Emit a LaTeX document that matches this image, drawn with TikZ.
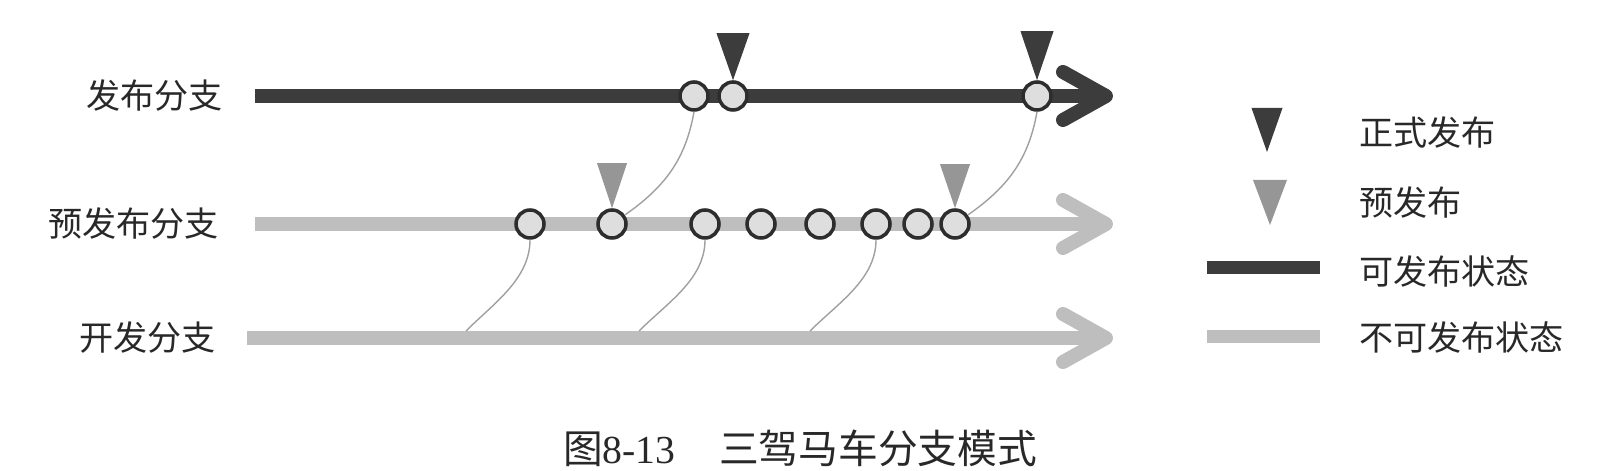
\documentclass[tikz,border=0pt]{standalone}
\usepackage{fontspec}
\setmainfont{Liberation Serif}
\newfontfamily\cjk{Noto Sans CJK SC}
\usepackage{tikz}
\usetikzlibrary{arrows.meta}
\definecolor{reldark}{RGB}{60,60,60}
\definecolor{prelight}{RGB}{190,190,190}
\definecolor{pretri}{RGB}{150,150,150}
\definecolor{commitfill}{RGB}{222,222,222}
\definecolor{commitedge}{RGB}{45,45,45}
\definecolor{linkgray}{RGB}{160,160,160}
\definecolor{textgray}{RGB}{40,40,40}
\tikzset{
  branch/.style={line width=0.14cm, -{Straight Barb[length=0.43cm,width=0.48cm,round]}},
  commit/.style={circle, draw=commitedge, fill=commitfill, line width=1pt, minimum size=0.28cm, inner sep=0pt},
  link/.style={draw=linkgray, line width=0.4pt},
  lbl/.style={font=\cjk\fontsize{9.7}{12}\selectfont, text=textgray},
}

\begin{document}
\begin{tikzpicture}
    \useasboundingbox (0,0) rectangle (16.23,4.71);
    % Branch labels
    \node[lbl, anchor=east] (lrel) at (2.35,3.75) {发布分支};
    \node[lbl, anchor=east] (lpre) at (2.31,2.47) {预发布分支};
    \node[lbl, anchor=east] (ldev) at (2.28,1.33) {开发分支};
    % Branches
    \draw[branch, reldark] (2.55,3.75) -- (11.13,3.75);
    \draw[branch, prelight] (2.55,2.47) -- (11.13,2.47);
    \draw[branch, prelight] (2.47,1.33) -- (11.13,1.33);
    % Release branch commits
    \node[commit] (r1) at (6.94,3.75) {};
    \node[commit] (r2) at (7.33,3.75) {};
    \node[commit] (r3) at (10.37,3.75) {};
    % Pre-release branch commits
    \foreach \x [count=\i] in {5.30,6.12,7.05,7.61,8.20,8.76,9.18,9.55}
        \node[commit] (p\i) at (\x,2.47) {};
    % Points on the dev branch
    \coordinate (d1) at (4.66,1.40);
    \coordinate (d2) at (6.39,1.40);
    \coordinate (d3) at (8.10,1.40);
    % Merges
    \draw[link] (d1) to[out=45,in=-90,looseness=0.9] (p1.south);
    \draw[link] (d2) to[out=45,in=-90,looseness=0.9] (p3.south);
    \draw[link] (d3) to[out=45,in=-90,looseness=0.9] (p6.south);
    \draw[link] (p2.35) to[out=35,in=-100] (r1.south);
    \draw[link] (p8.35) to[out=35,in=-100] (r3.south);
    % Release marks
    \fill[reldark] (r2.north) -- ++(-0.165,0.47) -- ++(0.33,0) -- cycle;
    \fill[reldark] (r3.north) -- ++(-0.165,0.49) -- ++(0.33,0) -- cycle;
    \fill[pretri] (p2.north) -- ++(-0.15,0.45) -- ++(0.30,0) -- cycle;
    \fill[pretri] (p8.north) -- ++(-0.15,0.44) -- ++(0.30,0) -- cycle;
    % Legend
    \fill[reldark] (12.67,3.19) -- ++(-0.155,0.44) -- ++(0.31,0) -- cycle;
    \fill[pretri] (12.70,2.46) -- ++(-0.17,0.45) -- ++(0.34,0) -- cycle;
    \draw[reldark, line width=0.13cm] (12.07,2.03) -- (13.20,2.03);
    \draw[prelight, line width=0.13cm] (12.07,1.34) -- (13.20,1.34);
    \node[lbl, anchor=west] (kfinal) at (13.47,3.38) {正式发布};
    \node[lbl, anchor=west] (kpre) at (13.47,2.68) {预发布};
    \node[lbl, anchor=west] (kok) at (13.47,1.99) {可发布状态};
    \node[lbl, anchor=west] (knot) at (13.47,1.33) {不可发布状态};
    % Caption
    \node[font=\fontsize{11.3}{13}\selectfont, text=textgray] (cap) at (8.0,0.23)
        {{\cjk 图}8-13\hspace{1.1em}{\cjk 三驾马车分支模式}};
\end{tikzpicture}
\end{document}
